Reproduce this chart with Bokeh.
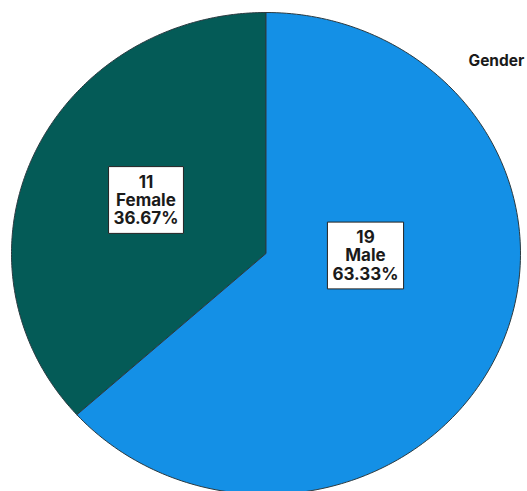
import numpy as np
from bokeh.plotting import figure
from bokeh.models import Range1d, Label
from bokeh.embed import file_html
from bokeh.resources import INLINE

# data
categories = ["Female", "Male"]
counts = [11, 19]
colors = ["#045B57", "#1490E6"]
legend_title = "Gender"

W, H = 527, 491
p = figure(width=W, height=H, output_backend="svg", toolbar_location=None,
           x_range=Range1d(0, W), y_range=Range1d(H, 0),
           min_border=0, outline_line_color=None)
p.axis.visible = False
p.grid.visible = False
p.background_fill_color = "white"
p.border_fill_color = "white"

cx, cy, rx, ry = 265.5, 253.0, 254.5, 241.0
total = sum(counts)
start = 90.0
xs, ys = [], []
for c in counts:
    sweep = 360.0 * c / total
    th = np.radians(np.linspace(start, start + sweep, 200))
    xs.append([cx] + list(cx + rx * np.cos(th)) + [cx])
    ys.append([cy] + list(cy - ry * np.sin(th)) + [cy])
    start += sweep

p.patches(xs, ys, fill_color=colors, line_color="#2b3a40", line_width=1)

label_pos = [(145.5, 199.5), (365, 255)]
for cat, c, (lx, ly) in zip(categories, counts, label_pos):
    txt = f"{c}\n{cat}\n{100 * c / total:.2f}%"
    p.add_layout(Label(x=lx, y=ly, text=txt, text_align="center", text_baseline="middle",
                       text_font="Inter", text_font_style="bold", text_font_size="17px",
                       text_color="#1a1a1a", text_line_height=0.92,
                       background_fill_color="white", border_line_color="#222222",
                       border_line_width=1, padding=5))

p.add_layout(Label(x=468, y=60, text=legend_title, text_align="left", text_baseline="middle",
                   text_font="Inter", text_font_style="bold", text_font_size="15.5px",
                   text_color="#1a1a1a"))

open("out.html", "w").write(file_html(p, INLINE))
